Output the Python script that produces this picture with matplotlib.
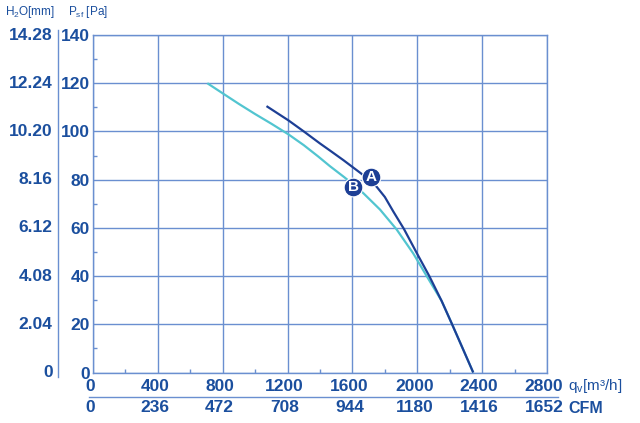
import matplotlib
matplotlib.use("Agg")
from matplotlib import pyplot as plt
from matplotlib.transforms import ScaledTranslation

# data
qv_ticks = [0, 400, 800, 1200, 1600, 2000, 2400, 2800]
cfm_labels = ['0', '236', '472', '708', '944', '1180', '1416', '1652']
pa_ticks = [0, 20, 40, 60, 80, 100, 120, 140]
mm_labels = ['0', '2.04', '4.08', '6.12', '8.16', '10.20', '12.24', '14.28']

curve_a_qv = [1070, 1205, 1300, 1400, 1461, 1544, 1625, 1700, 1750, 1800, 1852, 1918, 2006, 2074, 2150, 2214, 2280, 2345]
curve_a_pa = [110.5, 104.6, 100.0, 95.0, 92.1, 88.1, 84.0, 80.2, 77.0, 72.8, 66.8, 59.5, 48.4, 40.0, 29.7, 20.1, 10.0, 0.0]
curve_b_qv = [705, 800, 900, 1000, 1100, 1205, 1300, 1389, 1461, 1550, 1620, 1667, 1770, 1873, 1975, 2058, 2150, 2214, 2280, 2345]
curve_b_pa = [120.0, 115.8, 111.4, 107.2, 103.2, 98.8, 94.3, 89.6, 85.6, 81.0, 77.2, 74.4, 67.6, 59.3, 49.4, 40.0, 29.7, 20.1, 10.0, 0.0]

marker_names = ['B', 'A']
marker_qv = [1605, 1713]
marker_pa = [77.1, 81.2]

text_colour = '#1b4f9e'
grid_colour = '#6a8fd0'
colour_a = '#1d3f95'
colour_b = '#52c5d0'

plt.rcParams['font.family'] = ['Liberation Sans', 'DejaVu Sans']
plt.rcParams['mathtext.fontset'] = 'custom'
plt.rcParams['mathtext.rm'] = 'Liberation Sans'
plt.rcParams['mathtext.it'] = 'Liberation Sans'

figure = plt.figure(figsize=(6.4, 4.23), dpi=100)
axis = figure.add_axes([93/640, 1-372.5/423, 454/640, 337.5/423])

axis.set_xlim(0, 2800)
axis.set_ylim(0, 140)
axis.set_xticks(qv_ticks)
axis.set_yticks(pa_ticks)
axis.set_xticks([q + 200 for q in qv_ticks[:-1]], minor=True)
axis.set_yticks([p + 10 for p in pa_ticks[:-1]], minor=True)
axis.grid(True, which='major', color=grid_colour, linewidth=1.0)
for spine in axis.spines.values():
    spine.set_color(grid_colour)
    spine.set_linewidth(1.0)
axis.tick_params(which='major', length=0, labelsize=12.5, labelcolor=text_colour)
axis.tick_params(axis='x', which='major', pad=5)
axis.tick_params(axis='y', which='major', pad=2.5)
axis.tick_params(which='minor', direction='in', length=3, color=grid_colour, width=1.0)
for label in axis.get_xticklabels() + axis.get_yticklabels():
    label.set_fontweight('bold')
shift = ScaledTranslation(-3/100, 0, figure.dpi_scale_trans)
for label in axis.get_xticklabels():
    label.set_transform(label.get_transform() + shift)

axis.plot(curve_b_qv, curve_b_pa, color=colour_b, linewidth=1.6, solid_capstyle='butt', zorder=3)
axis.plot(curve_a_qv, curve_a_pa, color=colour_a, linewidth=1.6, solid_capstyle='butt', zorder=4)

for name, q, p in zip(marker_names, marker_qv, marker_pa):
    axis.plot(q, p, 'o', markersize=13.5, color=colour_a, markeredgecolor='white',
              markeredgewidth=0.8, zorder=5)
    axis.text(q, p, name, color='white', fontsize=11, fontweight='bold',
              ha='center', va='center', zorder=6)

# CFM row under the m3/h labels
xtrans = axis.get_xaxis_transform() + shift
for q, label in zip(qv_ticks, cfm_labels):
    axis.text(q, -0.104, label, transform=xtrans, ha='center', va='center',
              fontsize=12.5, fontweight='bold', color=text_colour, clip_on=False)
axis.plot([-0.009, 1.024], [-0.074, -0.074], transform=axis.transAxes,
          color=grid_colour, linewidth=1.0, clip_on=False)

# H2O column left of the Pa labels
ytrans = axis.get_yaxis_transform()
for p, label in zip(pa_ticks, mm_labels):
    axis.text(-0.0888, p, label, transform=ytrans, ha='right', va='center',
              fontsize=12.5, fontweight='bold', color=text_colour, clip_on=False)
axis.plot([-0.0778, -0.0778], [-0.013, 1.015], transform=axis.transAxes,
          color=grid_colour, linewidth=1.0, clip_on=False)

figure.text(5/640, 1-12/423, 'H$_2$O[mm]', fontsize=8.5, color=text_colour, va='center')
figure.text(68/640, 1-12/423, 'P$_{sf}$ [Pa]', fontsize=8.5, color=text_colour, va='center')
figure.text(568/640, 1-386/423, 'q$_v$[m³/h]', fontsize=11, color=text_colour, va='center')
figure.text(568/640, 1-408/423, 'CFM', fontsize=11.5, fontweight='bold', color=text_colour, va='center')

plt.savefig('out.png', dpi=100)
